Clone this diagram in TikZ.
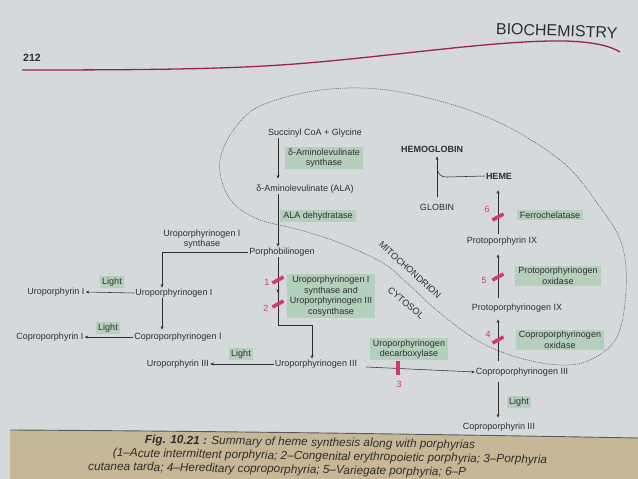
\documentclass[tikz,border=0pt]{standalone}
\usepackage{fontspec}
\setmainfont{Liberation Sans}
\usetikzlibrary{arrows.meta,calc}
\definecolor{page}{HTML}{D6D9DC}
\definecolor{ink}{HTML}{2E2E2E}
\definecolor{enzfill}{HTML}{B5CFBD}
\definecolor{barred}{HTML}{D23A6E}
\definecolor{redline}{HTML}{9E2446}
\definecolor{band}{HTML}{C6B796}
\definecolor{memb}{HTML}{5A5A5A}
\begin{document}
\begin{tikzpicture}[x=1pt,y=-1pt,
  font=\fontsize{9}{10.5}\selectfont,
  lbl/.style={text=ink, inner sep=1pt},
  enz/.style={fill=enzfill, text=ink, inner xsep=3pt, inner ysep=1.8pt, align=center, font=\fontsize{9}{10.5}\selectfont},
  arr/.style={draw=ink, line width=0.55pt, -{Stealth[length=3.5pt,width=3pt]}},
  ln/.style={draw=ink, line width=0.55pt},
  blk/.style={draw=barred, line width=3.6pt},
  num/.style={text=barred, inner sep=0pt, font=\fontsize{9}{9}\selectfont},
  compart/.style={text=ink, inner sep=0pt, font=\fontsize{9.2}{9}\selectfont}]
\useasboundingbox (0,0) rectangle (638,479);
\fill[page] (0,0) rectangle (638,479);
% header
\node[anchor=east, text=ink, rotate=-2, font=\fontsize{16}{16}\selectfont] (hdr) at (621,33) {BIOCHEMISTRY};
\node[text=ink, font=\bfseries\fontsize{10.5}{10}\selectfont] (pg) at (32,58) {212};
\draw[redline, line width=1.3pt] (22,70) .. controls (200,70) and (260,68) .. (340,60)
  .. controls (430,51) and (510,40) .. (565,41) .. controls (595,42) and (610,46) .. (620,52);
% mitochondrion boundary
\draw[memb, line width=0.5pt, dash pattern=on 1.2pt off 0.9pt]
  plot[smooth cycle, tension=0.6] coordinates {(330,89) (400,92) (487,117) (560,160) (600,207) (622,245) (626,290) (617,337) (590,360) (560,365) (520,358) (480,342) (440,313) (407,283) (383,263) (340,243) (300,230) (255,218) (228,196) (220,160) (238,124) (267,103)};
\node[compart, rotate=-42] (mito) at (410,270) {MITOCHONDRION};
\node[compart, rotate=-40] (cyto) at (406,303) {CYTOSOL};
% upper pathway
\coordinate (vx) at (278,0);
\node[lbl] (suc) at (315,133) {Succinyl CoA + Glycine};
\node[enz] (alas) at (324,158) {δ-Aminolevulinate\\synthase};
\node[lbl] (ala) at (305,189) {δ-Aminolevulinate (ALA)};
\draw[arr, shorten >=5pt] (suc.south -| vx) -- (ala.north -| vx);
\node[enz] (alad) at (318,216) {ALA dehydratase};
\node[lbl] (pbg) at (282,252) {Porphobilinogen};
\draw[arr] (ala.south -| vx) -- (pbg.north -| vx);
% type I branch
\coordinate (b1) at (162,252);
\node[lbl, align=center] (u1s) at (202,239) {Uroporphyrinogen I\\synthase};
\node[lbl] (uro1) at (174,293) {Uroporphyrinogen I};
\draw[arr] (pbg.west) -- (b1) -- (uro1.north -| b1);
\node[lbl] (uroI) at (56,292) {Uroporphyrin I};
\draw[arr] (uro1.west) -- (uroI.east);
\node[enz, inner xsep=2pt] (l1) at (112,282) {Light};
\node[lbl] (cop1) at (178,337) {Coproporphyrinogen I};
\draw[arr, shorten >=2pt] (uro1.south -| b1) -- (cop1.north -| b1);
\node[lbl] (copI) at (50,337) {Coproporphyrin I};
\draw[arr] (cop1.west) -- (copI.east);
\node[enz, inner xsep=2pt] (l2) at (108,328) {Light};
% type III branch
\coordinate (k1) at (278,325);
\coordinate (k2) at (312,325);
\node[lbl] (uro3) at (316,364) {Uroporphyrinogen III};
\draw[ln] (pbg.south -| vx) -- (k1) -- (k2);
\draw[arr] (k2) -- (uro3.north -| k2);
\coordinate (tk) at (278,293);
\draw[arr] ($(tk)+(0,-5)$) -- (tk);
\draw[blk] (272.5,283) -- (283.5,277);
\node[num] (n1) at (267,282) {1};
\draw[blk] (272.5,307) -- (283.5,301);
\node[num] (n2) at (266,308) {2};
\node[enz] (ucs) at (331,296) {Uroporphyrinogen I\\synthase and\\Uroporphyrinogen III\\cosynthase};
\node[lbl] (uroIII) at (178,364) {Uroporphyrin III};
\draw[arr] (uro3.west) -- (uroIII.east);
\node[enz, inner xsep=2pt] (l3) at (241,354) {Light};
% decarboxylase
\node[enz] (udc) at (409,349) {Uroporphyrinogen\\decarboxylase};
\node[lbl] (cop3) at (522,372) {Coproporphyrinogen III};
\draw[arr] ([xshift=8pt,yshift=-3pt]uro3.east) -- (cop3.west);
\draw[blk, line width=4pt] (398,361) -- (398,375);
\node[num] (n3) at (399,384) {3};
% mitochondrial steps
\coordinate (vr) at (498,0);
\node[lbl] (ppg) at (517,308) {Protoporphyrinogen IX};
\draw[arr, shorten >=6pt] ([yshift=6pt]cop3.north -| vr) -- (ppg.south -| vr);
\draw[blk] (492.5,343) -- (503.5,337);
\node[num] (n4) at (488,334) {4};
\node[enz] (cpo) at (560,340) {Coproporphyrinogen\\oxidase};
\node[lbl] (ppix) at (502,241) {Protoporphyrin IX};
\draw[arr, shorten >=8pt] ([yshift=5pt]ppg.north -| vr) -- (ppix.south -| vr);
\draw[blk] (492.5,280) -- (503.5,274);
\node[num] (n5) at (484,280) {5};
\node[enz] (ppo) at (558,276) {Protoporphyrinogen\\oxidase};
\node[lbl, font=\bfseries\fontsize{9}{10.5}\selectfont] (heme) at (499,176) {HEME};
\draw[arr, shorten >=10pt] ([yshift=2pt]ppix.north -| vr) -- (heme.south -| vr);
\draw[blk] (492.5,220) -- (503.5,214);
\node[num] (n6) at (487,209) {6};
\node[enz] (fc) at (550,215) {Ferrochelatase};
\node[lbl, font=\bfseries\fontsize{9}{10.5}\selectfont] (hb) at (432,149) {HEMOGLOBIN};
\node[lbl] (glob) at (437,207) {GLOBIN};
\coordinate (gx) at (437,0);
\draw[arr, shorten >=3pt] ([yshift=6pt]glob.north -| gx) -- (hb.south -| gx);
\coordinate (hj) at (437,166);
\draw[ln] (heme.west) -- (447,177) .. controls (440,177) and (437.5,174) .. (hj);
% to coproporphyrin III
\node[lbl] (copIII) at (499,427) {Coproporphyrin III};
\draw[arr, shorten >=4pt] ([yshift=-5pt]cop3.south -| vr) -- (copIII.north -| vr);
\node[enz, inner xsep=2pt] (l4) at (519,402) {Light};
% caption band
\fill[band] (10,430) .. controls (200,431) and (420,434) .. (638,438) -- (638,479) -- (10,479) -- cycle;
\draw[memb, line width=0.9pt] (10,430) .. controls (200,431) and (420,434) .. (638,438);
\begin{scope}[every node/.style={text=ink, inner sep=0pt, font=\itshape\fontsize{11.8}{12}\selectfont}]
\node[rotate=-0.9] (c1) at (310,443) {\textbf{Fig. 10.21 :} Summary of heme synthesis along with porphyrias};
\node[rotate=-0.9] (c2) at (330,457) {(1–Acute intermittent porphyria; 2–Congenital erythropoietic porphyria; 3–Porphyria};
\node[rotate=-0.9, anchor=west] (c3) at (88,467) {cutanea tarda; 4–Hereditary coproporphyria; 5–Variegate porphyria; 6–P};
\end{scope}
\end{tikzpicture}
\end{document}
